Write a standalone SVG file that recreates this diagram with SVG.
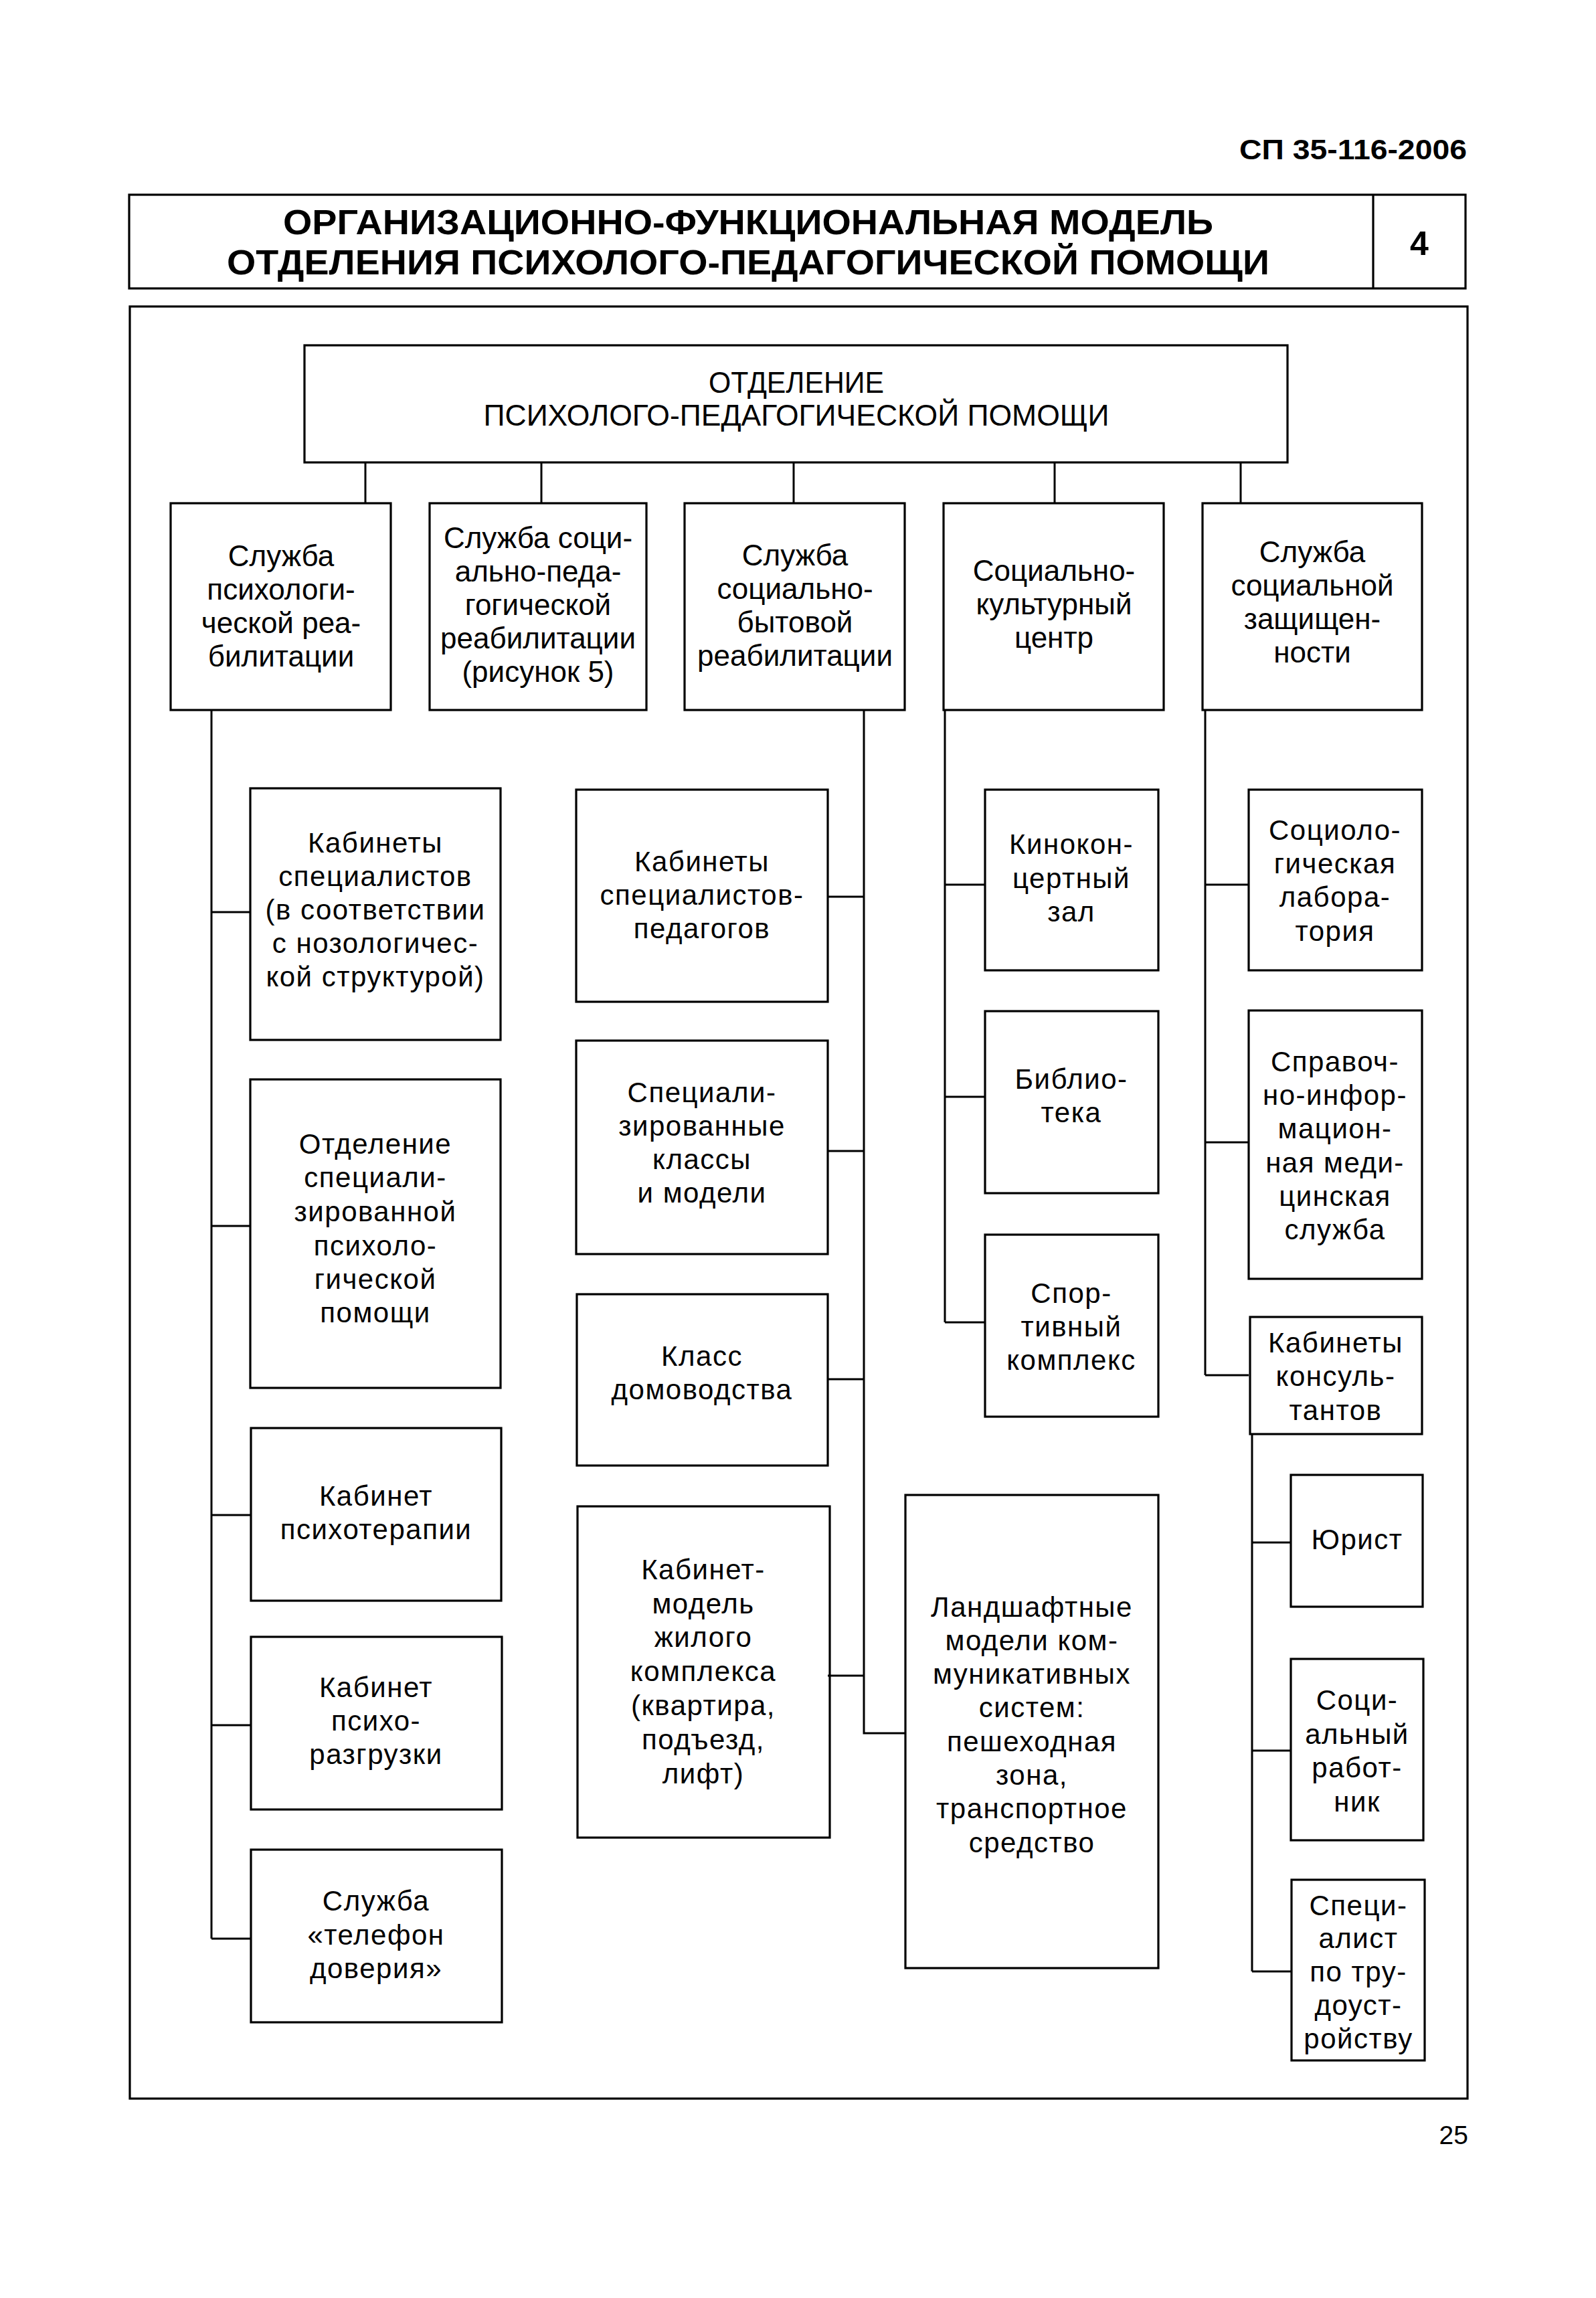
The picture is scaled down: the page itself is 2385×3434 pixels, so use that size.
<svg xmlns="http://www.w3.org/2000/svg" width="2385" height="3434" viewBox="0 0 2385 3434">
<style>
rect.b{fill:none;stroke:#000;stroke-width:3.2}
.c line,.c path{stroke:#000;stroke-width:3;fill:none}
text{font-family:"Liberation Sans",Arial,sans-serif;fill:#000}
.t1{font-size:44px;text-anchor:middle;dominant-baseline:central}
.t2{font-size:42px;letter-spacing:1.5px;text-anchor:middle;dominant-baseline:central}
.hd{font-weight:bold}
</style>
<rect width="2385" height="3434" fill="#fff"/>

<g id="header">
<text class="hd" x="2192" y="238" font-size="42" text-anchor="end" textLength="340" lengthAdjust="spacingAndGlyphs">СП 35-116-2006</text>
</g>

<g id="title">
<rect class="b" x="193" y="291" width="1997" height="140"/>
<line x1="2052" y1="291" x2="2052" y2="431" stroke="#000" stroke-width="3.2"/>
<text class="hd" x="1118" y="350" font-size="52" text-anchor="middle" textLength="1390" lengthAdjust="spacingAndGlyphs">ОРГАНИЗАЦИОННО-ФУНКЦИОНАЛЬНАЯ МОДЕЛЬ</text>
<text class="hd" x="1118" y="410" font-size="52" text-anchor="middle" textLength="1558" lengthAdjust="spacingAndGlyphs">ОТДЕЛЕНИЯ ПСИХОЛОГО-ПЕДАГОГИЧЕСКОЙ ПОМОЩИ</text>
<text class="hd" x="2121" y="381" font-size="50" text-anchor="middle">4</text>
</g>

<g id="frame">
<rect class="b" x="194" y="458" width="1999" height="2678"/>
</g>

<g class="c" id="connectors">
<line x1="546" y1="691" x2="546" y2="752"/>
<line x1="809" y1="691" x2="809" y2="752"/>
<line x1="1186" y1="691" x2="1186" y2="752"/>
<line x1="1576" y1="691" x2="1576" y2="752"/>
<line x1="1854" y1="691" x2="1854" y2="752"/>
<line x1="316" y1="1061" x2="316" y2="2897"/>
<line x1="316" y1="1363" x2="374" y2="1363"/>
<line x1="316" y1="1832" x2="374" y2="1832"/>
<line x1="316" y1="2264" x2="374" y2="2264"/>
<line x1="316" y1="2578" x2="374" y2="2578"/>
<line x1="316" y1="2897" x2="374" y2="2897"/>
<path d="M1291 1061 V2590 H1353"/>
<line x1="1237" y1="1340" x2="1291" y2="1340"/>
<line x1="1237" y1="1720" x2="1291" y2="1720"/>
<line x1="1237" y1="2061" x2="1291" y2="2061"/>
<line x1="1237" y1="2504" x2="1291" y2="2504"/>
<line x1="1412" y1="1061" x2="1412" y2="1976"/>
<line x1="1412" y1="1322" x2="1472" y2="1322"/>
<line x1="1412" y1="1639" x2="1472" y2="1639"/>
<line x1="1412" y1="1976" x2="1472" y2="1976"/>
<line x1="1801" y1="1061" x2="1801" y2="2055"/>
<line x1="1801" y1="1322" x2="1866" y2="1322"/>
<line x1="1801" y1="1707" x2="1866" y2="1707"/>
<line x1="1801" y1="2055" x2="1866" y2="2055"/>
<line x1="1871" y1="2143" x2="1871" y2="2946"/>
<line x1="1871" y1="2305" x2="1929" y2="2305"/>
<line x1="1871" y1="2616" x2="1929" y2="2616"/>
<line x1="1871" y1="2946" x2="1929" y2="2946"/>
</g>

<g id="root">
<rect class="b" x="455" y="516" width="1469" height="175"/>
<text class="t1" x="1190" y="571" textLength="262" lengthAdjust="spacingAndGlyphs">ОТДЕЛЕНИЕ</text>
<text class="t1" x="1190" y="620" textLength="935" lengthAdjust="spacingAndGlyphs">ПСИХОЛОГО-ПЕДАГОГИЧЕСКОЙ ПОМОЩИ</text>
</g>

<g id="b1">
<rect class="b" x="255" y="752" width="329" height="309"/>
<text class="t1" x="420" y="830">Служба</text>
<text class="t1" x="420" y="880">психологи-</text>
<text class="t1" x="420" y="930">ческой реа-</text>
<text class="t1" x="420" y="980">билитации</text>
</g>
<g id="b2">
<rect class="b" x="642" y="752" width="324" height="309"/>
<text class="t1" x="804" y="803">Служба соци-</text>
<text class="t1" x="804" y="853">ально-педа-</text>
<text class="t1" x="804" y="903">гогической</text>
<text class="t1" x="804" y="953">реабилитации</text>
<text class="t1" x="804" y="1003">(рисунок 5)</text>
</g>
<g id="b3">
<rect class="b" x="1023" y="752" width="329" height="309"/>
<text class="t1" x="1188" y="829">Служба</text>
<text class="t1" x="1188" y="879">социально-</text>
<text class="t1" x="1188" y="929">бытовой</text>
<text class="t1" x="1188" y="979">реабилитации</text>
</g>
<g id="b4">
<rect class="b" x="1410" y="752" width="329" height="309"/>
<text class="t1" x="1575" y="852">Социально-</text>
<text class="t1" x="1575" y="902">культурный</text>
<text class="t1" x="1575" y="952">центр</text>
</g>
<g id="b5">
<rect class="b" x="1797" y="752" width="328" height="309"/>
<text class="t1" x="1961" y="824">Служба</text>
<text class="t1" x="1961" y="874">социальной</text>
<text class="t1" x="1961" y="924">защищен-</text>
<text class="t1" x="1961" y="974">ности</text>
</g>

<g id="c1">
<rect class="b" x="374" y="1178" width="374" height="376"/>
<text class="t2" x="561" y="1259">Кабинеты</text>
<text class="t2" x="561" y="1309">специалистов</text>
<text class="t2" x="561" y="1359">(в соответствии</text>
<text class="t2" x="561" y="1409">с нозологичес-</text>
<text class="t2" x="561" y="1459">кой структурой)</text>
</g>
<g id="c2">
<rect class="b" x="374" y="1613" width="374" height="461"/>
<text class="t2" x="561" y="1709">Отделение</text>
<text class="t2" x="561" y="1759">специали-</text>
<text class="t2" x="561" y="1810">зированной</text>
<text class="t2" x="561" y="1861">психоло-</text>
<text class="t2" x="561" y="1911">гической</text>
<text class="t2" x="561" y="1961">помощи</text>
</g>
<g id="c3">
<rect class="b" x="375" y="2134" width="374" height="258"/>
<text class="t2" x="562" y="2235">Кабинет</text>
<text class="t2" x="562" y="2285">психотерапии</text>
</g>
<g id="c4">
<rect class="b" x="375" y="2446" width="375" height="258"/>
<text class="t2" x="562" y="2521">Кабинет</text>
<text class="t2" x="562" y="2571">психо-</text>
<text class="t2" x="562" y="2621">разгрузки</text>
</g>
<g id="c5">
<rect class="b" x="375" y="2764" width="375" height="258"/>
<text class="t2" x="562" y="2840">Служба</text>
<text class="t2" x="562" y="2891">«телефон</text>
<text class="t2" x="562" y="2941">доверия»</text>
</g>

<g id="d1">
<rect class="b" x="861" y="1180" width="376" height="317"/>
<text class="t2" x="1049" y="1287">Кабинеты</text>
<text class="t2" x="1049" y="1337">специалистов-</text>
<text class="t2" x="1049" y="1387">педагогов</text>
</g>
<g id="d2">
<rect class="b" x="861" y="1555" width="376" height="319"/>
<text class="t2" x="1049" y="1632">Специали-</text>
<text class="t2" x="1049" y="1682">зированные</text>
<text class="t2" x="1049" y="1732">классы</text>
<text class="t2" x="1049" y="1782">и модели</text>
</g>
<g id="d3">
<rect class="b" x="862" y="1934" width="375" height="256"/>
<text class="t2" x="1049" y="2026">Класс</text>
<text class="t2" x="1049" y="2076">домоводства</text>
</g>
<g id="d4">
<rect class="b" x="863" y="2251" width="377" height="495"/>
<text class="t2" x="1051" y="2345">Кабинет-</text>
<text class="t2" x="1051" y="2396">модель</text>
<text class="t2" x="1051" y="2446">жилого</text>
<text class="t2" x="1051" y="2497">комплекса</text>
<text class="t2" x="1051" y="2548">(квартира,</text>
<text class="t2" x="1051" y="2599">подъезд,</text>
<text class="t2" x="1051" y="2650">лифт)</text>
</g>
<g id="land">
<rect class="b" x="1353" y="2234" width="378" height="707"/>
<text class="t2" x="1542" y="2401">Ландшафтные</text>
<text class="t2" x="1542" y="2451">модели ком-</text>
<text class="t2" x="1542" y="2501">муникативных</text>
<text class="t2" x="1542" y="2551">систем:</text>
<text class="t2" x="1542" y="2602">пешеходная</text>
<text class="t2" x="1542" y="2652">зона,</text>
<text class="t2" x="1542" y="2702">транспортное</text>
<text class="t2" x="1542" y="2753">средство</text>
</g>

<g id="e1">
<rect class="b" x="1472" y="1180" width="259" height="270"/>
<text class="t2" x="1601" y="1261">Кинокон-</text>
<text class="t2" x="1601" y="1312">цертный</text>
<text class="t2" x="1601" y="1362">зал</text>
</g>
<g id="e2">
<rect class="b" x="1472" y="1511" width="259" height="272"/>
<text class="t2" x="1601" y="1612">Библио-</text>
<text class="t2" x="1601" y="1662">тека</text>
</g>
<g id="e3">
<rect class="b" x="1472" y="1845" width="259" height="272"/>
<text class="t2" x="1601" y="1932">Спор-</text>
<text class="t2" x="1601" y="1982">тивный</text>
<text class="t2" x="1601" y="2032">комплекс</text>
</g>

<g id="f1">
<rect class="b" x="1866" y="1180" width="259" height="270"/>
<text class="t2" x="1995" y="1240">Социоло-</text>
<text class="t2" x="1995" y="1290">гическая</text>
<text class="t2" x="1995" y="1340">лабора-</text>
<text class="t2" x="1995" y="1391">тория</text>
</g>
<g id="f2">
<rect class="b" x="1866" y="1510" width="259" height="401"/>
<text class="t2" x="1995" y="1586">Справоч-</text>
<text class="t2" x="1995" y="1636">но-инфор-</text>
<text class="t2" x="1995" y="1686">мацион-</text>
<text class="t2" x="1995" y="1737">ная меди-</text>
<text class="t2" x="1995" y="1787">цинская</text>
<text class="t2" x="1995" y="1837">служба</text>
</g>
<g id="f3">
<rect class="b" x="1868" y="1968" width="257" height="175"/>
<text class="t2" x="1996" y="2006">Кабинеты</text>
<text class="t2" x="1996" y="2056">консуль-</text>
<text class="t2" x="1996" y="2107">тантов</text>
</g>
<g id="g1">
<rect class="b" x="1929" y="2204" width="197" height="197"/>
<text class="t2" x="2028" y="2300">Юрист</text>
</g>
<g id="g2">
<rect class="b" x="1929" y="2479" width="198" height="271"/>
<text class="t2" x="2028" y="2540">Соци-</text>
<text class="t2" x="2028" y="2591">альный</text>
<text class="t2" x="2028" y="2641">работ-</text>
<text class="t2" x="2028" y="2692">ник</text>
</g>
<g id="g3">
<rect class="b" x="1930" y="2809" width="199" height="270"/>
<text class="t2" x="2030" y="2847">Специ-</text>
<text class="t2" x="2030" y="2896">алист</text>
<text class="t2" x="2030" y="2946">по тру-</text>
<text class="t2" x="2030" y="2996">доуст-</text>
<text class="t2" x="2030" y="3046">ройству</text>
</g>

<g id="footer">
<text x="2194" y="3204" font-size="39" text-anchor="end">25</text>
</g>
</svg>
